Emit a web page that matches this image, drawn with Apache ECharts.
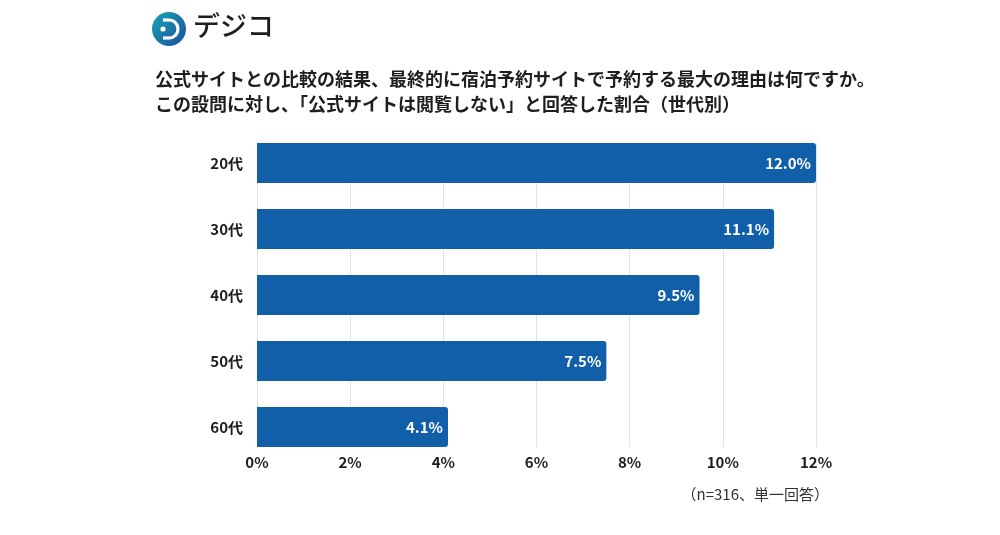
<!DOCTYPE html>
<html>

<head>
    <meta http-equiv="Content-Type" content="text/html; charset=utf-8">
    <title>公式サイトは閲覧しない 割合</title>
    <script src="https://cdn.jsdelivr.net/npm/echarts@6.0.0/dist/echarts.min.js"></script>
    <style>
        html, body { margin: 0; padding: 0; background: #fff; }
    </style>
</head>

<body>
    <div id="main" style="width: 1000px;height:535px;"></div>
    <script type="text/javascript">
        // 世代別
        var categories = ['20代', '30代', '40代', '50代', '60代'];
        var values = [12.0, 11.1, 9.5, 7.5, 4.1];
        var tickLabels = ['0%', '2%', '4%', '6%', '8%', '10%', '12%'];

        var font = '"Noto Sans CJK JP", "Noto Sans", sans-serif';
        var chart = echarts.init(document.getElementById('main'));

        var option = {
            backgroundColor: '#fff',
            animation: false,
            textStyle: { fontFamily: font },
            title: {
                left: 150,
                top: 62,
                text: '公式サイトとの比較の結果、最終的に宿泊予約サイトで予約する最大の理由は何ですか。\nこの設問に対し、「公式サイトは閲覧しない」と回答した割合（世代別）',
                textStyle: {
                    fontFamily: font,
                    fontSize: 18,
                    fontWeight: 'bold',
                    color: '#1e1e1e',
                    lineHeight: 25
                }
            },
            grid: [
                // bars
                { left: 257, right: 184, top: 130, bottom: 75 },
                // grid lines + tick labels only
                { left: 257, right: 184, top: 143, bottom: 88 }
            ],
            xAxis: [
                {
                    gridIndex: 0, type: 'value', min: 0, max: 12, interval: 2,
                    show: false
                },
                {
                    gridIndex: 1, type: 'value', min: 0, max: 12, interval: 2,
                    axisLine: { show: false },
                    axisTick: { show: false },
                    splitLine: { lineStyle: { color: '#e3e3e3', width: 1 } },
                    axisLabel: {
                        margin: 8,
                        fontSize: 15,
                        fontWeight: 'bold',
                        color: '#1e1e1e',
                        fontFamily: font,
                        formatter: function (v) { return tickLabels[Math.round(v / 2)]; }
                    }
                }
            ],
            yAxis: [
                {
                    gridIndex: 0, type: 'category', data: categories, inverse: true,
                    axisLine: { show: false },
                    axisTick: { show: false },
                    axisLabel: {
                        margin: 14,
                        fontSize: 15,
                        fontWeight: 'bold',
                        color: '#1e1e1e',
                        fontFamily: font
                    }
                },
                {
                    gridIndex: 1, type: 'category', data: categories, inverse: true,
                    show: false
                }
            ],
            series: [
                {
                    type: 'bar',
                    xAxisIndex: 0,
                    yAxisIndex: 0,
                    data: values,
                    barWidth: 40,
                    z: 5,
                    itemStyle: { color: '#115ea9', borderRadius: [0, 3, 3, 0] },
                    label: {
                        show: true,
                        position: 'insideRight',
                        distance: 5,
                        color: '#fff',
                        fontSize: 15,
                        fontWeight: 'bold',
                        fontFamily: font,
                        formatter: function (p) { return p.value.toFixed(1) + '%'; }
                    }
                }
            ],
            graphic: [
                // logo
                {
                    type: 'circle',
                    shape: { cx: 169, cy: 29, r: 17 },
                    style: {
                        fill: new echarts.graphic.LinearGradient(0, 0, 1, 1, [
                            { offset: 0, color: '#1aa3b5' },
                            { offset: 1, color: '#1b4f9c' }
                        ])
                    }
                },
                {
                    type: 'arc',
                    shape: { cx: 169, cy: 29, r: 9, startAngle: -Math.PI / 2, endAngle: Math.PI / 2 },
                    style: { fill: null, stroke: '#fff', lineWidth: 3.2 }
                },
                {
                    type: 'polyline',
                    shape: { points: [[169, 20], [163, 20]] },
                    style: { stroke: '#fff', lineWidth: 3.2 }
                },
                {
                    type: 'polyline',
                    shape: { points: [[169, 38], [163, 38]] },
                    style: { stroke: '#fff', lineWidth: 3.2 }
                },
                {
                    type: 'circle',
                    shape: { cx: 163, cy: 29, r: 2.6 },
                    style: { fill: '#fff' }
                },
                {
                    type: 'text',
                    left: 193,
                    top: 12,
                    style: {
                        text: 'デジコ',
                        fontFamily: font,
                        fontSize: 27,
                        fontWeight: 500,
                        fill: '#1e1e1e'
                    }
                },
                // note
                {
                    type: 'text',
                    right: 171,
                    top: 487,
                    style: {
                        text: '（n=316、単一回答）',
                        fontFamily: font,
                        fontSize: 15,
                        fill: '#333'
                    }
                }
            ]
        };

        chart.setOption(option);
    </script>
</body>

</html>
